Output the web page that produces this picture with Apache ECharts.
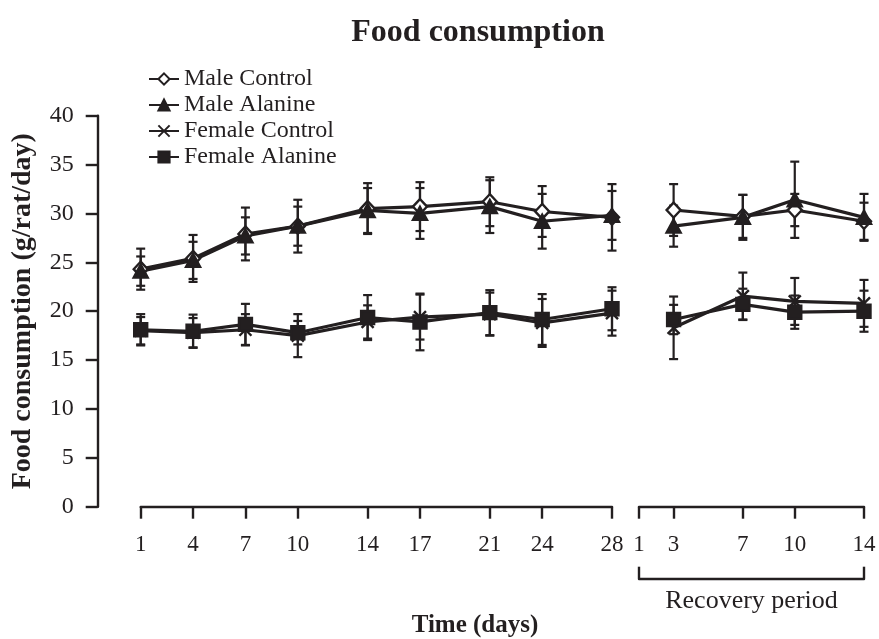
<!DOCTYPE html>
<html><head><meta charset="utf-8">
<script src="https://cdn.jsdelivr.net/npm/echarts@6/dist/echarts.min.js"></script>
<style>html,body{margin:0;padding:0;background:#fff}#c{width:879px;height:639px}</style>
</head><body><div id="c"></div>
<script>
// ---- data ----
const daysMain = [1, 4, 7, 10, 14, 17, 21, 24, 28];
const daysRecovery = [3, 7, 10, 14];
const mainTickLabels = [1, 4, 7, 10, 14, 17, 21, 24, 28];
const recoveryTickLabels = [1, 3, 7, 10, 14];

const maleControlMain = [24.3, 25.4, 27.9, 28.7, 30.5, 30.7, 31.2, 30.2, 29.6];
const maleControlMainSd = [2.1, 2.4, 2.7, 2.7, 2.6, 2.5, 2.5, 2.6, 3.4];
const maleAlanineMain = [24.1, 25.2, 27.7, 28.7, 30.3, 30.0, 30.7, 29.2, 29.8];
const maleAlanineMainSd = [1.5, 1.9, 1.9, 2.0, 2.3, 2.6, 2.7, 2.8, 2.5];
const femaleControlMain = [18.0, 17.8, 18.1, 17.5, 18.9, 19.4, 19.7, 18.8, 19.8];
const femaleControlMainSd = [1.4, 1.5, 1.6, 2.2, 1.7, 2.3, 2.2, 2.45, 2.3];
const femaleAlanineMain = [18.1, 17.95, 18.65, 17.8, 19.35, 18.9, 19.85, 19.15, 20.25];
const femaleAlanineMainSd = [1.6, 1.7, 2.1, 1.2, 2.3, 2.9, 2.3, 2.6, 2.2];

const maleControlRec = [30.35, 29.7, 30.35, 29.2];
const maleControlRecSd = [2.65, 2.2, 1.65, 1.9];
const maleAlanineRec = [28.7, 29.6, 31.4, 29.6];
const maleAlanineRecSd = [2.1, 2.3, 3.9, 2.4];
const femaleControlRec = [18.3, 21.55, 21.0, 20.8];
const femaleControlRecSd = [3.2, 2.4, 2.4, 2.4];
const femaleAlanineRec = [19.15, 20.7, 19.9, 20.0];
const femaleAlanineRecSd = [1.5, 1.6, 1.7, 2.1];

const seriesNames = ['Male Control', 'Male Alanine', 'Female Control', 'Female Alanine'];

// ---- styling ----
const INK = '#231f20';
const FONT = "'Liberation Serif', 'Times New Roman', serif";
const symbols = {
  'Male Control': {symbol: 'diamond', size: [14, 15], fill: '#ffffff'},
  'Male Alanine': {symbol: 'triangle', size: [14, 13], fill: INK},
  'Female Control': {symbol: 'path://M0,0L10,10M10,0L0,10', size: 12, fill: INK},
  'Female Alanine': {symbol: 'rect', size: 13, fill: INK}
};

function lineSeries(name, gridIdx, days, vals) {
  const s = symbols[name];
  return {
    name, type: 'line', xAxisIndex: gridIdx, yAxisIndex: gridIdx,
    data: days.map((d, i) => [d, vals[i]]),
    symbol: s.symbol, symbolSize: s.size, showSymbol: true,
    lineStyle: {color: INK, width: 3.2},
    itemStyle: {color: s.fill, borderColor: INK, borderWidth: 2.4},
    z: 5, animation: false
  };
}
function errSeries(name, gridIdx, days, vals, sds) {
  return {
    name: name + ' err', type: 'custom', xAxisIndex: gridIdx, yAxisIndex: gridIdx,
    data: days.map((d, i) => [d, vals[i] - sds[i], vals[i] + sds[i]]),
    encode: {x: 0, y: [1, 2]},
    z: 3, animation: false, silent: true,
    renderItem: function (params, api) {
      const x = api.value(0);
      const lo = api.coord([x, api.value(1)]);
      const hi = api.coord([x, api.value(2)]);
      const w = 4.5;
      const st = {stroke: INK, lineWidth: 2.2};
      return {type: 'group', children: [
        {type: 'line', shape: {x1: lo[0], y1: lo[1], x2: hi[0], y2: hi[1]}, style: st},
        {type: 'line', shape: {x1: lo[0] - w, y1: lo[1], x2: lo[0] + w, y2: lo[1]}, style: st},
        {type: 'line', shape: {x1: hi[0] - w, y1: hi[1], x2: hi[0] + w, y2: hi[1]}, style: st}
      ]};
    }
  };
}

const mainVals = [maleControlMain, maleAlanineMain, femaleControlMain, femaleAlanineMain];
const mainSds = [maleControlMainSd, maleAlanineMainSd, femaleControlMainSd, femaleAlanineMainSd];
const recVals = [maleControlRec, maleAlanineRec, femaleControlRec, femaleAlanineRec];
const recSds = [maleControlRecSd, maleAlanineRecSd, femaleControlRecSd, femaleAlanineRecSd];

const series = [];
seriesNames.forEach((n, k) => {
  series.push(errSeries(n, 0, daysMain, mainVals[k], mainSds[k]));
  series.push(errSeries(n, 1, daysRecovery, recVals[k], recSds[k]));
});
seriesNames.forEach((n, k) => {
  series.push(lineSeries(n, 0, daysMain, mainVals[k]));
  series.push(lineSeries(n, 1, daysRecovery, recVals[k]));
});

const axisLineStyle = {show: true, lineStyle: {color: INK, width: 2.4}};
const tickStyle = {lineStyle: {color: INK, width: 2.4}};

const option = {
  backgroundColor: '#ffffff',
  animation: false,
  textStyle: {fontFamily: FONT, color: INK},
  title: [
    {text: 'Food consumption', left: 473, top: 12, textAlign: 'center',
     textStyle: {fontFamily: FONT, fontSize: 32, fontWeight: 'bold', color: INK}},
    {text: 'Time (days)', left: 470, top: 608, textAlign: 'center',
     textStyle: {fontFamily: FONT, fontSize: 25, fontWeight: 'bold', color: INK}}
  ],
  legend: {
    data: seriesNames, orient: 'vertical', left: 143, top: 62,
    itemWidth: 30, itemHeight: 14, itemGap: 2,
    textStyle: {fontFamily: FONT, fontSize: 24, color: INK},
    selectedMode: false
  },
  grid: [
    {left: 140.7, top: 115.7, width: 471.3, height: 391, containLabel: false},
    {left: 639, top: 115.7, width: 225, height: 391, containLabel: false}
  ],
  xAxis: [
    {type: 'value', gridIndex: 0, min: 1, max: 28, position: 'bottom',
     axisLine: axisLineStyle, splitLine: {show: false},
     axisTick: Object.assign({show: true, length: 12, customValues: mainTickLabels}, tickStyle),
     axisLabel: {show: true, customValues: mainTickLabels, margin: 27, fontSize: 23, fontFamily: FONT, color: INK}},
    {type: 'value', gridIndex: 1, min: 1, max: 14, position: 'bottom',
     axisLine: axisLineStyle, splitLine: {show: false},
     axisTick: Object.assign({show: true, length: 12, customValues: recoveryTickLabels}, tickStyle),
     axisLabel: {show: true, customValues: recoveryTickLabels, margin: 27, fontSize: 23, fontFamily: FONT, color: INK}},
    {type: 'value', gridIndex: 1, min: 1, max: 14, position: 'bottom', offset: 72,
     axisLine: axisLineStyle, splitLine: {show: false},
     axisTick: Object.assign({show: true, inside: true, length: 12, customValues: [1, 14]}, tickStyle),
     axisLabel: {show: false},
     name: 'Recovery period', nameLocation: 'middle', nameGap: 9,
     nameTextStyle: {fontFamily: FONT, fontSize: 26, color: INK}}
  ],
  yAxis: [
    {type: 'value', gridIndex: 0, min: 0, max: 40, interval: 5, position: 'left', offset: 43,
     axisLine: axisLineStyle, splitLine: {show: false},
     axisTick: Object.assign({show: true, length: 12}, tickStyle),
     axisLabel: {margin: 24, fontSize: 24, fontFamily: FONT, color: INK},
     name: 'Food consumption (g/rat/day)', nameLocation: 'middle', nameGap: 61, nameRotate: 90,
     nameTextStyle: {fontFamily: FONT, fontSize: 28, fontWeight: 'bold', color: INK}},
    {type: 'value', gridIndex: 1, min: 0, max: 40, interval: 5, show: false}
  ],
  series: series
};

const chart = echarts.init(document.getElementById('c'), null, {renderer: 'canvas'});
chart.setOption(option);
</script>
</body></html>
